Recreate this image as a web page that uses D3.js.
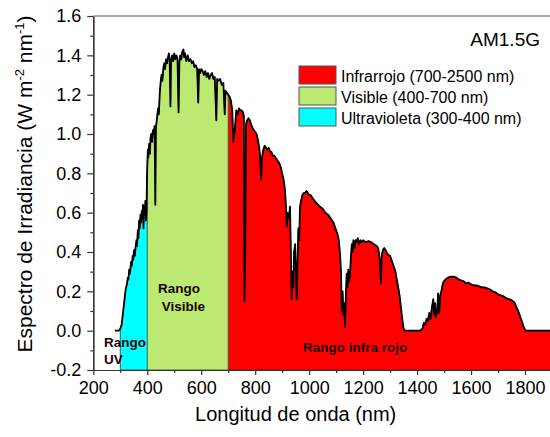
<!DOCTYPE html>
<html>
<head>
<meta charset="utf-8">
<script src="https://cdn.jsdelivr.net/npm/d3@7"></script>
<style>
    body { margin: 0; background: #fff; }
    #chart { width: 550px; height: 437px; overflow: hidden; }
    text { font-family: Arial, "Liberation Sans", sans-serif; }
</style>
</head>
<body>
<div id="chart"></div>
<script>

// spectrum (nm, W m-2 nm-1)
const wavelength = [
    280, 295, 300, 305, 310, 315, 320, 325, 328, 330, 333, 336, 340, 343, 346, 348, 351, 354, 357, 360,
    362, 365, 367, 370, 372, 375, 377, 380, 382, 384, 386, 388, 391, 393, 395, 397, 399, 400, 402, 404,
    407, 410, 412, 415, 418, 421, 424, 427, 430, 432, 436, 440, 443, 446, 450, 453, 456, 460, 463, 466,
    470, 474, 477, 480, 483, 486, 488, 492, 496, 500, 504, 508, 512, 516, 519, 522, 526, 530, 534, 537,
    540, 545, 550, 555, 560, 565, 570, 575, 580, 585, 589, 592, 596, 600, 605, 610, 615, 620, 625, 630,
    635, 640, 645, 650, 656, 659, 665, 670, 676, 682, 687, 690, 695, 700, 705, 710, 715, 719, 722, 726,
    730, 735, 740, 745, 750, 755, 758, 760, 763, 766, 770, 775, 780, 785, 790, 795, 800, 805, 810, 815,
    818, 822, 825, 830, 835, 840, 845, 850, 855, 860, 865, 870, 875, 880, 885, 890, 895, 900, 905, 910,
    913, 917, 920, 925, 929, 932, 935, 938, 941, 944, 948, 951, 954, 957, 960, 963, 966, 970, 975, 980,
    985, 990, 995, 1000, 1005, 1010, 1015, 1020, 1030, 1040, 1050, 1060, 1070, 1080, 1090, 1100, 1105, 1110, 1115, 1118,
    1121, 1124, 1127, 1130, 1133, 1136, 1139, 1142, 1145, 1148, 1151, 1155, 1158, 1161, 1164, 1168, 1172, 1176, 1180, 1185,
    1190, 1195, 1200, 1210, 1220, 1230, 1240, 1250, 1256, 1262, 1266, 1269, 1273, 1278, 1283, 1290, 1300, 1305, 1310, 1315,
    1320, 1325, 1330, 1335, 1340, 1345, 1350, 1355, 1410, 1420, 1425, 1430, 1435, 1440, 1445, 1450, 1455, 1460, 1463, 1467,
    1470, 1475, 1478, 1482, 1486, 1490, 1494, 1498, 1505, 1515, 1525, 1535, 1545, 1555, 1565, 1575, 1580, 1590, 1600, 1610,
    1620, 1630, 1640, 1650, 1660, 1670, 1680, 1690, 1700, 1710, 1720, 1730, 1740, 1750, 1760, 1765, 1770, 1775, 1780, 1785,
    1790, 1795, 1800, 1805, 1900
];
const irradiance = [
    0, 0, 0.01, 0.03, 0.09, 0.15, 0.21, 0.24, 0.27, 0.26, 0.31, 0.29, 0.35, 0.33, 0.38, 0.36, 0.41, 0.38, 0.43, 0.46,
    0.43, 0.51, 0.47, 0.56, 0.52, 0.59, 0.55, 0.61, 0.57, 0.64, 0.52, 0.63, 0.59, 0.66, 0.56, 0.60, 0.78, 0.83, 0.92, 0.88,
    0.95, 0.90, 0.98, 1.00, 0.96, 1.02, 1.00, 1.04, 0.64, 1.03, 1.08, 1.13, 1.10, 1.20, 1.27, 1.30, 1.27, 1.34, 1.36, 1.33,
    1.38, 1.36, 1.39, 1.41, 1.38, 1.14, 1.37, 1.40, 1.37, 1.41, 1.38, 1.40, 1.38, 1.11, 1.36, 1.40, 1.38, 1.42, 1.43, 1.39,
    1.41, 1.37, 1.40, 1.37, 1.38, 1.36, 1.37, 1.34, 1.35, 1.33, 1.16, 1.33, 1.31, 1.33, 1.32, 1.30, 1.32, 1.29, 1.31, 1.28,
    1.30, 1.31, 1.28, 1.29, 1.07, 1.28, 1.27, 1.28, 1.25, 1.26, 1.10, 1.22, 1.21, 1.20, 1.19, 1.17, 1.12, 0.96, 0.99, 1.05,
    1.12, 1.10, 1.13, 1.12, 1.12, 1.11, 1.09, 0.15, 0.40, 1.05, 1.07, 1.08, 1.07, 1.05, 1.03, 1.02, 1.01, 1.00, 0.97, 0.93,
    0.89, 0.77, 0.88, 0.92, 0.94, 0.93, 0.92, 0.93, 0.91, 0.91, 0.89, 0.89, 0.88, 0.87, 0.86, 0.85, 0.83, 0.80, 0.77, 0.72,
    0.66, 0.53, 0.60, 0.57, 0.63, 0.42, 0.16, 0.30, 0.22, 0.40, 0.44, 0.30, 0.16, 0.35, 0.52, 0.46, 0.63, 0.66, 0.69, 0.70,
    0.70, 0.71, 0.70, 0.69, 0.69, 0.68, 0.67, 0.66, 0.645, 0.63, 0.62, 0.60, 0.59, 0.57, 0.55, 0.51, 0.49, 0.46, 0.38, 0.30,
    0.10, 0.20, 0.08, 0.14, 0.02, 0.18, 0.29, 0.22, 0.31, 0.25, 0.28, 0.38, 0.44, 0.40, 0.46, 0.42, 0.46, 0.45, 0.47, 0.44,
    0.46, 0.45, 0.46, 0.45, 0.455, 0.45, 0.44, 0.43, 0.42, 0.36, 0.24, 0.38, 0.41, 0.42, 0.41, 0.39, 0.38, 0.36, 0.34, 0.32,
    0.30, 0.26, 0.22, 0.18, 0.12, 0.06, 0.01, 0, 0, 0.01, 0.04, 0.03, 0.06, 0.05, 0.09, 0.06, 0.12, 0.16, 0.08, 0.14,
    0.07, 0.10, 0.19, 0.09, 0.18, 0.20, 0.23, 0.25, 0.26, 0.27, 0.275, 0.275, 0.27, 0.26, 0.255, 0.25, 0.24, 0.245, 0.235, 0.23,
    0.23, 0.225, 0.22, 0.22, 0.215, 0.21, 0.20, 0.195, 0.185, 0.18, 0.175, 0.165, 0.16, 0.155, 0.145, 0.13, 0.115, 0.10, 0.08, 0.06,
    0.04, 0.02, 0.005, 0, 0
];

// spectral ranges
const bandNames = ["Infrarrojo", "Visible", "Ultravioleta"];
const bandStart = [700, 400, 300];
const bandEnd = [2500, 700, 400];
const legendLabels = ["Infrarrojo (700-2500 nm)", "Visible (400-700 nm)", "Ultravioleta (300-400 nm)"];

const xTicks = [200, 400, 600, 800, 1000, 1200, 1400, 1600, 1800];
const xMinorTicks = [300, 500, 700, 900, 1100, 1300, 1500, 1700, 1900];
const yTicks = [-0.2, 0.0, 0.2, 0.4, 0.6, 0.8, 1.0, 1.2, 1.4, 1.6];
const yMinorTicks = [-0.1, 0.1, 0.3, 0.5, 0.7, 0.9, 1.1, 1.3, 1.5];

const bandColors = {Infrarrojo: "#ff0000", Visible: "#bbe972", Ultravioleta: "#00ffff"};


class SpectrumVis {

    constructor(parentElement) {
        this.parentElement = parentElement;
        this.data = wavelength.map((w, i) => ({wl: w, val: irradiance[i]}));

        this.initVis()
    }

    initVis() {
        let vis = this;

        vis.margin = {top: 16, right: 0, bottom: 67, left: 93.3};
        vis.width = 458.7;
        vis.height = 437 - vis.margin.top - vis.margin.bottom;

        vis.svg = d3.select("#" + vis.parentElement).append("svg")
            .attr("width", 550)
            .attr("height", 437)
            .append("g")
            .attr("transform", `translate(${vis.margin.left}, ${vis.margin.top})`);

        vis.x = d3.scaleLinear().domain([200, 1900]).range([0, vis.width]);
        vis.y = d3.scaleLinear().domain([-0.2, 1.6]).range([vis.height, 0]);

        let defs = vis.svg.append("defs");
        defs.append("clipPath").attr("id", "plotClip")
            .append("rect")
            .attr("width", vis.width)
            .attr("height", vis.height);

        bandNames.forEach((b, i) => {
            defs.append("clipPath").attr("id", "clip_" + b)
                .append("rect")
                .attr("x", vis.x(bandStart[i]))
                .attr("width", vis.x(bandEnd[i]) - vis.x(bandStart[i]))
                .attr("height", vis.height);
        });

        vis.plot = vis.svg.append("g").attr("clip-path", "url(#plotClip)");

        vis.updateVis()
    }

    updateVis() {
        let vis = this;

        let area = d3.area()
            .x(d => vis.x(d.wl))
            .y0(vis.height)
            .y1(d => vis.y(d.val));

        let line = d3.line()
            .x(d => vis.x(d.wl))
            .y(d => vis.y(d.val));

        // filled ranges
        bandNames.forEach(b => {
            vis.plot.append("path")
                .datum(vis.data)
                .attr("clip-path", `url(#clip_${b})`)
                .attr("fill", bandColors[b])
                .attr("stroke", "#333")
                .attr("stroke-width", 0.8)
                .attr("d", area);
        });

        // band edges
        vis.plot.selectAll(".edge")
            .data(bandStart)
            .enter().append("line")
            .attr("x1", d => vis.x(d))
            .attr("x2", d => vis.x(d))
            .attr("y1", vis.height)
            .attr("y2", d => vis.y(irradiance[wavelength.indexOf(d)]))
            .attr("stroke", "#333")
            .attr("stroke-width", 0.8);

        vis.plot.append("path")
            .datum(vis.data)
            .attr("fill", "none")
            .attr("stroke", "#000")
            .attr("stroke-width", 1.8)
            .attr("stroke-linejoin", "round")
            .attr("d", line);

        // axes
        let axisColor = "#333";
        let fmt = d => d.toFixed(1);

        vis.svg.append("g")
            .call(d3.axisLeft(vis.y).tickValues(yTicks).tickFormat(fmt).tickSize(6).tickSizeOuter(0).tickPadding(6));
        vis.svg.append("g")
            .call(d3.axisLeft(vis.y).tickValues(yMinorTicks).tickFormat("").tickSize(3).tickSizeOuter(0));

        vis.svg.append("g")
            .attr("transform", `translate(0, ${vis.height})`)
            .call(d3.axisBottom(vis.x).tickValues(xTicks).tickFormat(d => d).tickSize(5).tickSizeOuter(0).tickPadding(6));
        vis.svg.append("g")
            .attr("transform", `translate(0, ${vis.height})`)
            .call(d3.axisBottom(vis.x).tickValues(xMinorTicks).tickFormat("").tickSize(3).tickSizeOuter(0));

        vis.svg.selectAll(".domain, .tick line").attr("stroke", axisColor).attr("stroke-width", 1.2);
        vis.svg.selectAll(".tick text")
            .style("font-size", "18px")
            .attr("fill", "#000");

        // top frame
        vis.svg.append("line")
            .attr("x1", 0).attr("x2", vis.width)
            .attr("y1", 0).attr("y2", 0)
            .attr("stroke", "#555")
            .attr("stroke-width", 1.2);

        // axis titles
        vis.svg.append("text")
            .attr("x", vis.x(950))
            .attr("y", vis.height + 51)
            .attr("text-anchor", "middle")
            .style("font-size", "20px")
            .text("Longitud de onda (nm)");

        let yTitle = vis.svg.append("text")
            .attr("transform", `translate(${-61}, ${184 - vis.margin.top}) rotate(-90)`)
            .attr("text-anchor", "middle")
            .style("font-size", "21px");
        yTitle.append("tspan").text("Espectro de Irradiancia (W m");
        yTitle.append("tspan").attr("dy", -8).style("font-size", "13px").text("-2");
        yTitle.append("tspan").attr("dy", 8).text(" nm");
        yTitle.append("tspan").attr("dy", -8).style("font-size", "13px").text("-1");
        yTitle.append("tspan").attr("dy", 8).text(")");

        // label top right
        vis.svg.append("text")
            .attr("x", 540 - vis.margin.left)
            .attr("y", 46 - vis.margin.top)
            .attr("text-anchor", "end")
            .style("font-size", "19px")
            .text("AM1.5G");

        // legend
        let legend = vis.svg.append("g")
            .attr("transform", `translate(${299 - vis.margin.left}, ${66 - vis.margin.top})`);
        legendLabels.forEach((l, i) => {
            legend.append("rect")
                .attr("y", i * 21)
                .attr("width", 37)
                .attr("height", 18)
                .attr("fill", bandColors[bandNames[i]])
                .attr("stroke", "#555")
                .attr("stroke-width", 1);
            legend.append("text")
                .attr("x", 42)
                .attr("y", i * 21 + 15.5)
                .style("font-size", "16px")
                .text(l);
        });

        // range annotations
        let notes = [
            {lines: ["Rango", "UV"], wl: 240, val: -0.081},
            {lines: ["Rango", " Visible"], wl: 440, val: 0.192},
            {lines: ["Rango infra rojo"], wl: 977, val: -0.107}
        ];
        notes.forEach(n => {
            let t = vis.plot.append("text")
                .attr("x", vis.x(n.wl))
                .attr("y", vis.y(n.val))
                .attr("fill", "#1a0000")
                .style("font-size", "13.5px")
                .style("font-weight", "bold")
                .style("white-space", "pre");
            n.lines.forEach((s, i) => {
                t.append("tspan")
                    .attr("x", vis.x(n.wl))
                    .attr("dy", i === 0 ? 0 : 17.7)
                    .text(s);
            });
        });
    }
}

new SpectrumVis("chart");

</script>
</body>
</html>
